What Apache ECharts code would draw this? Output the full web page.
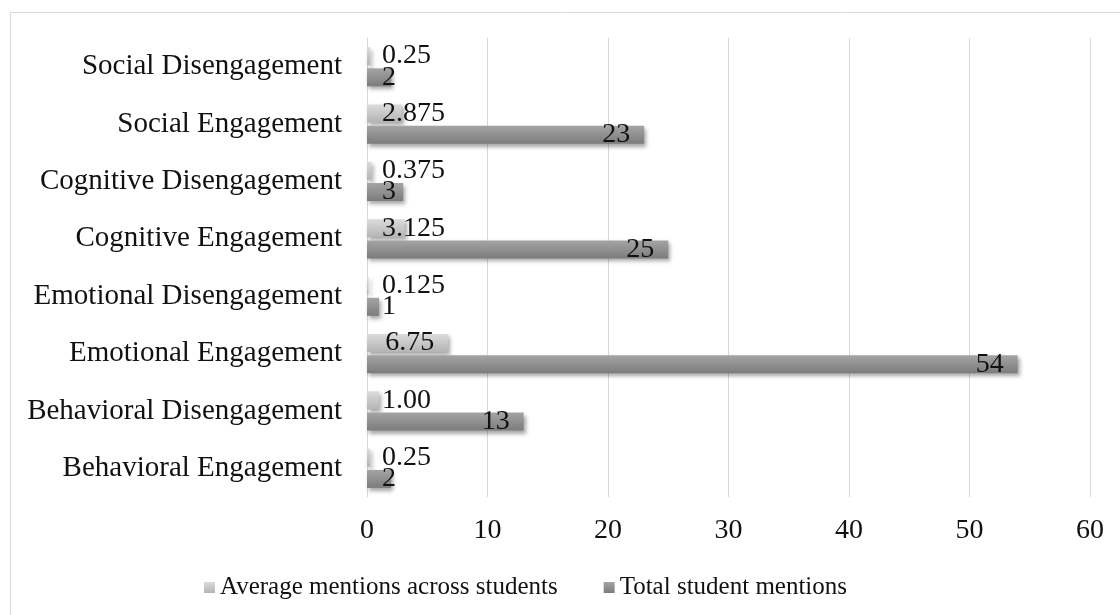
<!DOCTYPE html>
<html>
<head>
<meta charset="utf-8">
<script src="https://cdn.jsdelivr.net/npm/echarts@6/dist/echarts.min.js"></script>
<style>html,body{margin:0;padding:0;background:#fff}#c{width:1120px;height:615px}</style>
</head>
<body>
<div id="c"></div>
<script>
const categories = ['Behavioral Engagement','Behavioral Disengagement','Emotional Engagement','Emotional Disengagement','Cognitive Engagement','Cognitive Disengagement','Social Engagement','Social Disengagement'];
const averageMentions = [0.25, 1.00, 6.75, 0.125, 3.125, 0.375, 2.875, 0.25];
const averageLabels = ['0.25','1.00','6.75','0.125','3.125','0.375','2.875','0.25'];
const totalMentions = [2, 13, 54, 1, 25, 3, 23, 2];
const xTicks = [0, 10, 20, 30, 40, 50, 60];

const FONT = 'Liberation Serif';
const FS = 28;
const GRID_LEFT = 367, GRID_RIGHT = 30;
const chartW = 1120 - GRID_LEFT - GRID_RIGHT;
const xMax = xTicks[xTicks.length - 1];
const cv = document.createElement('canvas').getContext('2d');
cv.font = FS + 'px "' + FONT + '"';
function fits(v, txt) {
  const end = v / xMax * chartW;
  return end - 14 - cv.measureText(txt).width >= 12;
}
function mk(vals, labels) {
  return vals.map((v, i) => ({
    value: v,
    label: fits(v, labels[i]) ? { position: 'insideRight', distance: 14 } : { position: 'insideLeft', distance: 15 }
  }));
}
function grad(a, b) {
  return new echarts.graphic.LinearGradient(0, 0, 0, 1, [{offset: 0, color: a}, {offset: 1, color: b}]);
}
const chart = echarts.init(document.getElementById('c'));
const labelBase = { show: true, color: '#111', fontFamily: FONT, fontSize: FS };
chart.setOption({
  animation: false,
  backgroundColor: '#fff',
  textStyle: { fontFamily: FONT },
  graphic: [{
    type: 'rect', shape: { x: 10.5, y: 12.5, width: 1130, height: 620 },
    style: { fill: 'none', stroke: '#d9d9d9', lineWidth: 1 }, silent: true, z: -10
  }],
  grid: { left: GRID_LEFT, right: GRID_RIGHT, top: 38, bottom: 118, containLabel: false },
  legend: {
    left: 199, top: 570, itemWidth: 11, itemHeight: 11, itemGap: 46,
    icon: 'rect',
    textStyle: { fontFamily: FONT, fontSize: 25, color: '#111' },
    data: ['Average mentions across students', 'Total student mentions']
  },
  xAxis: {
    type: 'value', min: 0, max: xMax, interval: 10,
    axisLine: { show: false }, axisTick: { show: false },
    splitLine: { lineStyle: { color: '#d9d9d9', width: 1 } },
    axisLabel: { fontFamily: FONT, fontSize: FS, color: '#111', margin: 20 }
  },
  yAxis: {
    type: 'category', data: categories,
    axisLine: { show: true, lineStyle: { color: '#d9d9d9' } },
    axisTick: { show: false },
    axisLabel: { fontFamily: FONT, fontSize: 29, color: '#111', margin: 25, padding: [6, 0, 0, 0] }
  },
  series: [
    {
      name: 'Average mentions across students', type: 'bar',
      data: mk(averageMentions, averageLabels),
      barWidth: 18, barGap: '18%',
      itemStyle: { color: grad('#dcdcdc', '#b4b4b4'), shadowColor: 'rgba(0,0,0,0.35)', shadowBlur: 4, shadowOffsetX: 2, shadowOffsetY: 3 },
      label: Object.assign({}, labelBase, { formatter: p => averageLabels[p.dataIndex] })
    },
    {
      name: 'Total student mentions', type: 'bar',
      data: mk(totalMentions, totalMentions.map(String)),
      barWidth: 18,
      itemStyle: { color: grad('#a4a4a4', '#7c7c7c'), shadowColor: 'rgba(0,0,0,0.35)', shadowBlur: 4, shadowOffsetX: 2, shadowOffsetY: 3 },
      label: Object.assign({}, labelBase)
    }
  ]
});
</script>
</body>
</html>
